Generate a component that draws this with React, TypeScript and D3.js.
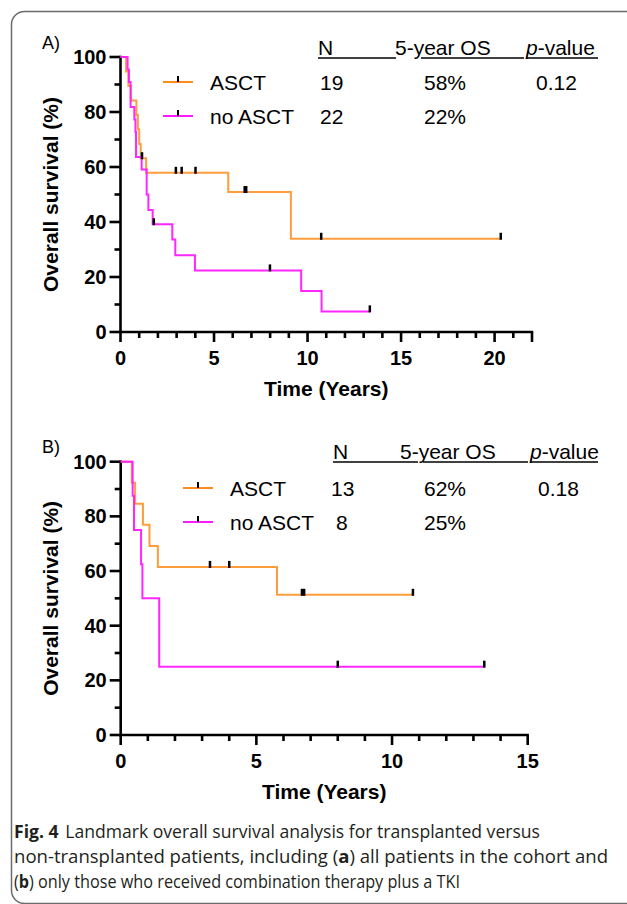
import * as d3 from 'd3';
import React from 'react';

// ---- data ----
// panel A: all patients
const asctA_time = [0, 0.3, 0.42, 0.55, 0.85, 0.93, 1.0, 1.08, 1.37, 5.76, 9.11, 20.33];
const asctA_surv = [100, 94.7, 89.5, 84.2, 78.9, 73.7, 68.4, 63.2, 57.9, 50.9, 33.9, 33.9];
const asctA_censor = [1.15, 2.96, 3.27, 4.01, 6.64, 6.72, 10.73, 20.33];

const noAsctA_time = [0, 0.38, 0.45, 0.54, 0.74, 0.8, 0.83, 1.13, 1.4, 1.49, 1.72, 2.77, 2.93, 3.98, 9.66, 10.75, 13.33];
const noAsctA_surv = [100, 95.5, 90.9, 81.8, 77.3, 72.7, 63.6, 59.1, 50.0, 44.4, 39.2, 33.6, 27.9, 22.4, 14.9, 7.5, 7.5];
const noAsctA_censor = [1.78, 7.99, 13.33];

// panel B: combination therapy plus TKI
const asctB_time = [0, 0.41, 0.53, 0.82, 1.06, 1.37, 5.76, 10.77];
const asctB_surv = [100, 92.3, 84.6, 76.9, 69.2, 61.5, 51.3, 51.3];
const asctB_censor = [3.29, 4.0, 6.68, 6.76, 10.77];

const noAsctB_time = [0, 0.44, 0.49, 0.75, 0.8, 1.42, 13.4];
const noAsctB_surv = [100, 87.5, 75, 62.5, 50, 25, 25];
const noAsctB_censor = [8.0, 13.4];

const groups = ['ASCT', 'no ASCT'];
const tableHead = ['N', '5-year OS', 'p-value'];
const nA = ['19', '22'];
const osA = ['58%', '22%'];
const pA = '0.12';
const nB = ['13', '8'];
const osB = ['62%', '25%'];
const pB = '0.18';

const yTicks = [0, 20, 40, 60, 80, 100];
const yMinor = [10, 30, 50, 70, 90];

const ORANGE = '#ff8c1a';
const MAGENTA = '#ff1aff';
const FONT = "'Liberation Sans', Arial, sans-serif";

type Series = { time: number[]; surv: number[]; censor: number[]; color: string };

const survAt = (s: Series, t: number) => s.surv[Math.max(0, d3.bisectRight(s.time, t) - 1)];

function KMPanel(p: any) {
  const x = d3.scaleLinear().domain([0, p.xMax]).range([p.left, p.right]);
  const y = d3.scaleLinear().domain([0, 100]).range([p.bottom, p.top]);
  const path = (s: Series) =>
    d3
      .line<[number, number]>()
      .x(d => x(d[0]))
      .y(d => y(d[1]))
      .curve(d3.curveStepAfter)(s.time.map((t, i) => [t, s.surv[i]]));
  const xMinor = d3.range(0, p.xMax + 1, 1).filter(v => !p.xTicks.includes(v));

  return (
    <g fontFamily={FONT} fill="black">
      <text x={42} y={p.labelY} fontSize={18}>{p.label}</text>

      {/* y axis */}
      <line x1={p.left} x2={p.left} y1={y(0) + 1.2} y2={y(100) - 1.2} stroke="black" strokeWidth={2.6} />
      {yTicks.map(v => (
        <g key={'y' + v}>
          <line x1={p.left - 11} x2={p.left} y1={y(v)} y2={y(v)} stroke="black" strokeWidth={2.6} />
          <text x={p.left - 14} y={y(v) + 7} textAnchor="end" fontSize={20} fontWeight="bold">{v}</text>
        </g>
      ))}
      {yMinor.map(v => (
        <line key={'ym' + v} x1={p.left - 6} x2={p.left} y1={y(v)} y2={y(v)} stroke="black" strokeWidth={2.6} />
      ))}
      <text
        transform={`translate(${p.left - 63},${(p.top + p.bottom) / 2}) rotate(-90)`}
        textAnchor="middle"
        fontSize={21}
        fontWeight="bold"
      >
        Overall survival (%)
      </text>

      {/* x axis */}
      <line x1={p.left - 1.2} x2={x(p.xMax) + 1.2} y1={y(0)} y2={y(0)} stroke="black" strokeWidth={2.6} />
      {p.xTicks.map((v: number) => (
        <g key={'x' + v}>
          <line x1={x(v)} x2={x(v)} y1={y(0)} y2={y(0) + 10} stroke="black" strokeWidth={2.6} />
          <text x={x(v)} y={y(0) + 33} textAnchor="middle" fontSize={20} fontWeight="bold">{v}</text>
        </g>
      ))}
      {xMinor.map(v => (
        <line key={'xm' + v} x1={x(v)} x2={x(v)} y1={y(0)} y2={y(0) + (v === p.xMax ? 10 : 6)} stroke="black" strokeWidth={2.6} />
      ))}
      <text x={(p.left + p.right) / 2} y={y(0) + 64} textAnchor="middle" fontSize={21} fontWeight="bold">
        Time (Years)
      </text>

      {/* curves */}
      {p.series.map((s: Series, i: number) => (
        <path key={'c' + i} d={path(s) || ''} fill="none" stroke={s.color} strokeWidth={2} strokeOpacity={i === 0 ? 0.85 : 0.95} />
      ))}
      {p.series.map((s: Series, i: number) =>
        s.censor.map((t, j) => (
          <line key={'t' + i + '-' + j} x1={x(t)} x2={x(t)} y1={y(survAt(s, t)) - 6} y2={y(survAt(s, t)) + 1} stroke="black" strokeWidth={2.5} />
        ))
      )}

      {/* legend */}
      {p.series.map((s: Series, i: number) => (
        <g key={'l' + i}>
          <line x1={p.legX} x2={p.legX + 30} y1={p.rowY[i] - 8} y2={p.rowY[i] - 8} stroke={s.color} strokeWidth={2} />
          <line x1={p.legX + 15} x2={p.legX + 15} y1={p.rowY[i] - 14} y2={p.rowY[i] - 8} stroke="black" strokeWidth={2} />
          <text x={p.legX + 47} y={p.rowY[i]} fontSize={21}>{groups[i]}</text>
        </g>
      ))}

      {/* table */}
      <text x={p.colN} y={p.headY} fontSize={21}>{tableHead[0]}</text>
      <text x={p.colOS} y={p.headY} fontSize={21}>{tableHead[1]}</text>
      <text x={p.colP} y={p.headY} fontSize={21}>
        <tspan fontStyle="italic">p</tspan>
        {tableHead[2].slice(1)}
      </text>
      {p.underlines.map((u: number[], i: number) => (
        <line key={'u' + i} x1={u[0]} x2={u[1]} y1={p.headY + 3} y2={p.headY + 3} stroke="black" strokeWidth={1.4} />
      ))}
      {p.n.map((v: string, i: number) => (
        <text key={'n' + i} x={p.nX[i]} y={p.rowY[i]} fontSize={21}>{v}</text>
      ))}
      {p.os.map((v: string, i: number) => (
        <text key={'o' + i} x={p.colOSv} y={p.rowY[i]} fontSize={21}>{v}</text>
      ))}
      <text x={p.colPv} y={p.rowY[0]} fontSize={21}>{p.pv}</text>
    </g>
  );
}

export default function App() {
  const seriesA: Series[] = [
    { time: asctA_time, surv: asctA_surv, censor: asctA_censor, color: ORANGE },
    { time: noAsctA_time, surv: noAsctA_surv, censor: noAsctA_censor, color: MAGENTA },
  ];
  const seriesB: Series[] = [
    { time: asctB_time, surv: asctB_surv, censor: asctB_censor, color: ORANGE },
    { time: noAsctB_time, surv: noAsctB_surv, censor: noAsctB_censor, color: MAGENTA },
  ];
  const capFont = "'Open Sans', 'Noto Sans', sans-serif";

  return (
    <svg width={627} height={904} style={{ position: 'absolute', left: 0, top: 0, background: 'white' }}>
      <rect x={11.5} y={11.5} width={700} height={892} rx={13} fill="white" stroke="#6b6b6b" strokeWidth={1.5} />

      <KMPanel
        label="A)" labelY={49}
        series={seriesA} xMax={22} xTicks={[0, 5, 10, 15, 20]}
        left={120.5} right={532} top={57} bottom={332}
        legX={163} rowY={[90, 124]}
        headY={55} colN={318} colOS={395} colP={526} underlines={[[318, 396], [421, 524], [526, 598]]}
        n={nA} nX={[320, 320]} os={osA} colOSv={424} pv={pA} colPv={536}
      />
      <KMPanel
        label="B)" labelY={453}
        series={seriesB} xMax={15} xTicks={[0, 5, 10, 15]}
        left={120.7} right={527.7} top={461.7} bottom={735}
        legX={183} rowY={[496, 530]}
        headY={459} colN={333} colOS={400} colP={530} underlines={[[333, 418], [423, 528], [530, 598]]}
        n={nB} nX={[331, 336]} os={osB} colOSv={424} pv={pB} colPv={538}
      />

      <g fontFamily={capFont} fontSize={18.5} fill="#231f20">
        <text x={14} y={838} textLength={526} lengthAdjust="spacingAndGlyphs">
          <tspan fontWeight="bold">Fig. 4</tspan>
          <tspan dx={7}>Landmark overall survival analysis for transplanted versus</tspan>
        </text>
        <text x={14} y={863} textLength={594} lengthAdjust="spacingAndGlyphs">
          {'non-transplanted patients, including ('}
          <tspan fontWeight="bold">a</tspan>
          {') all patients in the cohort and'}
        </text>
        <text x={14} y={888} textLength={446} lengthAdjust="spacingAndGlyphs">
          {'('}
          <tspan fontWeight="bold">b</tspan>
          {') only those who received combination therapy plus a TKI'}
        </text>
      </g>
    </svg>
  );
}
